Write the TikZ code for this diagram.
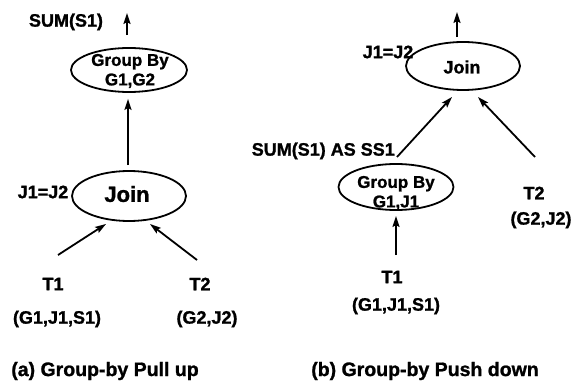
\documentclass[tikz,border=0pt]{standalone}
\usepackage{fontspec}
\setmainfont{Liberation Sans}[BoldFeatures={FakeBold=1.2}]
\usetikzlibrary{calc,arrows.meta,shapes.geometric}
\begin{document}
\begin{tikzpicture}[x=1pt,y=-1pt,
  lbl/.style={font=\bfseries\fontsize{18}{18}\selectfont, inner sep=0pt},
  captxt/.style={font=\bfseries\fontsize{19.5}{20}\selectfont, inner sep=0pt},
  ell/.style={draw, ellipse, line width=1.8pt, inner sep=0pt},
  inell/.style={font=\bfseries\fontsize{17}{19.5}\selectfont, inner sep=0pt, align=center},
  arr/.style={-{Stealth[length=11pt,width=7pt,inset=2pt]}, line width=1.8pt},
]
\useasboundingbox (0,0) rectangle (575,382);

% ---------- (a) Group-by Pull up ----------
\node[ell, minimum width=116pt, minimum height=44pt] (gb1) at (129,70) {};
\node[inell] (gb1t) at (130,71) {Group By\\G1,G2};
\node[ell, minimum width=114pt, minimum height=50pt] (join1) at (129,196) {};
\node[inell, font=\bfseries\fontsize{22}{22}\selectfont] (join1t) at (127,194) {Join};
\node[lbl] (sum1) at (66,22) {SUM(S1)};
\node[lbl] (cond1) at (43,192) {J1=J2};
\node[lbl] (t1) at (53,284) {T1};
\node[lbl] (t2) at (200,284) {T2};
\node[lbl] (t1a) at (57,319) {(G1,J1,S1)};
\node[lbl] (t2a) at (207,319) {(G2,J2)};
\node[captxt] (capa) at (105,371) {(a) Group-by Pull up};
\coordinate (out1) at (127,13);

\draw[arr, shorten <=12pt] ($(gb1.north)+(-2,0)$) -- (out1);
\draw[arr, shorten <=5pt, shorten >=6pt] ($(join1.north)+(-1,0)$) -- ($(gb1.south)+(-1,0)$);
\draw[arr] ($(t1)+(5,-29)$) -- ($(join1)+(-23,28)$);
\draw[arr] ($(t2)+(-3,-24)$) -- ($(join1)+(21,28)$);

% ---------- (b) Group-by Push down ----------
\node[ell, minimum width=114pt, minimum height=48pt] (join2) at (463,66) {};
\node[inell, font=\bfseries\fontsize{18}{18}\selectfont] (join2t) at (462,67) {Join};
\node[ell, minimum width=115pt, minimum height=46pt] (gb2) at (396,187) {};
\node[inell] (gb2t) at (396,193) {Group By\\G1,J1};
\node[lbl] (cond2) at (388,52) {J1=J2};
\node[lbl, anchor=east] (sum2) at (395,151) {SUM(S1) AS SS1};
\node[lbl] (t2b) at (534,193) {T2};
\node[lbl] (t2ba) at (541,220) {(G2,J2)};
\node[lbl] (t1b) at (392,277) {T1};
\node[lbl] (t1ba) at (396,306) {(G1,J1,S1)};
\node[captxt] (capb) at (425,371) {(b) Group-by Push down};
\coordinate (out2) at (457,12);

\draw[arr, shorten <=4pt] ($(join2.north)+(-6,0)$) -- (out2);
\draw[arr] ($(gb2)+(1,-30)$) -- ($(join2)+(-11,31)$);
\draw[arr] ($(t2b)+(1,-36)$) -- ($(join2)+(15,31)$);
\draw[arr] ($(t1b)+(4,-22)$) -- ($(gb2)+(0,29)$);
\end{tikzpicture}
\end{document}
